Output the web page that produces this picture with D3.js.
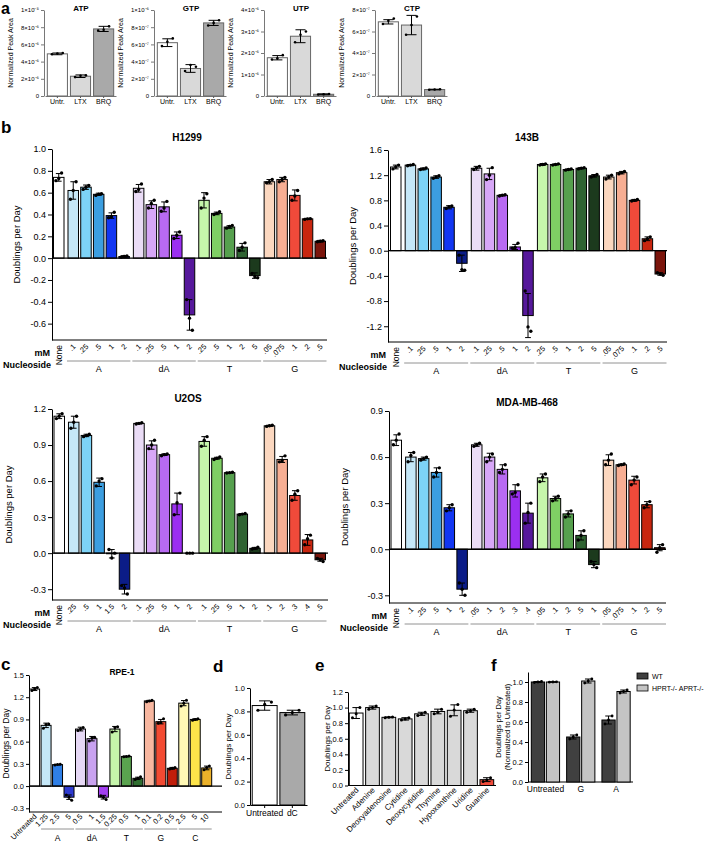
<!DOCTYPE html>
<html><head><meta charset="utf-8">
<script src="https://cdn.jsdelivr.net/npm/d3@7"></script>
<style>
body{margin:0;background:#fff}
svg{display:block;font-family:"Liberation Sans",Arial,Helvetica,sans-serif}
</style>
</head><body>
<svg id="fig" width="704" height="842"></svg>
<script>
// ---------------- DATA ----------------
// Panel a
const aCats = ["Untr.","LTX","BRQ"];
const aFills = ["#ffffff","#d9d9d9","#a9a9a9"];
const atpVals = [4.9e-6, 2.3e-6, 7.8e-6];
const atpErr = [0.1e-6, 0.15e-6, 0.3e-6];
const atpDots = [[4.85e-6,4.95e-6,5.0e-6],[2.2e-6,2.35e-6,2.4e-6],[7.6e-6,7.7e-6,8.1e-6]];
const atpTicks = [0,2e-6,4e-6,6e-6,8e-6,1e-5];
const atpTickLabels = ["0","2×10⁻⁶","4×10⁻⁶","6×10⁻⁶","8×10⁻⁶","1×10⁻⁵"];
const gtpVals = [6.2e-7, 3.2e-7, 8.5e-7];
const gtpErr = [0.45e-7, 0.45e-7, 0.3e-7];
const gtpDots = [[5.8e-7,6.3e-7,6.7e-7],[2.9e-7,3.6e-7,3.4e-7],[8.2e-7,8.5e-7,8.8e-7]];
const gtpTicks = [0,2e-7,4e-7,6e-7,8e-7,1e-6];
const gtpTickLabels = ["0","2×10⁻⁷","4×10⁻⁷","6×10⁻⁷","8×10⁻⁷","1×10⁻⁶"];
const utpVals = [1.78e-6, 2.78e-6, 0.08e-6];
const utpErr = [0.1e-6, 0.3e-6, 0.02e-6];
const utpDots = [[1.7e-6,1.75e-6,1.9e-6],[2.5e-6,2.85e-6,3.0e-6],[0.07e-6,0.08e-6,0.09e-6]];
const utpTicks = [0,1e-6,2e-6,3e-6,4e-6];
const utpTickLabels = ["0","1×10⁻⁶","2×10⁻⁶","3×10⁻⁶","4×10⁻⁶"];
const ctpVals = [6.9e-7, 6.6e-7, 0.6e-7];
const ctpErr = [0.2e-7, 0.9e-7, 0.03e-7];
const ctpDots = [[6.7e-7,7.0e-7,7.2e-7],[5.7e-7,6.6e-7,7.4e-7],[0.58e-7,0.6e-7,0.63e-7]];
const ctpTicks = [0,2e-7,4e-7,6e-7,8e-7];
const ctpTickLabels = ["0","2×10⁻⁷","4×10⁻⁷","6×10⁻⁷","8×10⁻⁷"];

// Panel b (shared structure)
const bGroups = ["A","dA","T","G"];
const bGroupOf = [-1,0,0,0,0,0,1,1,1,1,1,2,2,2,2,2,3,3,3,3,3];
const bFills = ["#ffffff",
  "#c5e7f7","#7dd3f7","#3c9ee0","#1236f2","#0b1c87",
  "#eadcf6","#d7a7f7","#b86af2","#9b2ff1","#56189b",
  "#c6f6ab","#7fcf64","#56a04e","#2f6332","#1c3a1d",
  "#fbd7bf","#f7ae93","#f04a3a","#c8260f","#7b150c"];

const h1299Doses = ["None",".1",".25",".5","1","2",".1",".25",".5","1","2",".25",".5","1","2","5",".05",".075",".1",".2",".5"];
const h1299Vals = [0.74,0.62,0.65,0.585,0.39,0.015,0.64,0.49,0.47,0.21,-0.52,0.53,0.41,0.285,0.10,-0.16,0.70,0.72,0.575,0.36,0.155];
const h1299Err = [0.035,0.08,0.02,0.01,0.025,0.008,0.035,0.035,0.045,0.03,0.14,0.07,0.012,0.012,0.035,0.025,0.02,0.02,0.05,0.005,0.008];
const h1299Dots = [[0.71,0.73,0.78],[0.54,0.62,0.70],[0.63,0.65,0.665],[0.575,0.585,0.59],[0.37,0.38,0.42],[0.01,0.015,0.02],
  [0.61,0.63,0.68],[0.46,0.50,0.53],[0.43,0.46,0.52],[0.18,0.21,0.24],[-0.38,-0.55,-0.66],
  [0.46,0.55,0.59],[0.40,0.41,0.425],[0.275,0.29,0.30],[0.07,0.10,0.14],[-0.14,-0.17,-0.18],
  [0.69,0.70,0.72],[0.70,0.72,0.74],[0.53,0.57,0.62],[0.355,0.36,0.362],[0.15,0.155,0.16]];
const h1299Ticks = [-0.6,-0.4,-0.2,0,0.2,0.4,0.6,0.8,1.0];

const b143Doses = ["None",".1",".25",".5","1","2",".1",".25",".5","1","2",".25",".5","1","2","5",".05",".075",".1",".2",".5"];
const b143Vals = [1.33,1.36,1.30,1.17,0.69,-0.20,1.31,1.22,0.88,0.06,-1.03,1.37,1.37,1.29,1.31,1.19,1.17,1.24,0.80,0.19,-0.37];
const b143Err = [0.03,0.01,0.015,0.02,0.025,0.13,0.03,0.09,0.01,0.04,0.35,0.015,0.01,0.01,0.01,0.02,0.03,0.02,0.015,0.03,0.02];
const b143Dots = [[1.30,1.33,1.36],[1.35,1.36,1.37],[1.29,1.30,1.315],[1.15,1.17,1.19],[0.67,0.70,0.71],[-0.07,-0.30,-0.31],
  [1.29,1.32,1.34],[1.13,1.20,1.32],[0.87,0.88,0.89],[0.04,0.05,0.12],[-0.64,-1.21,-1.28],
  [1.36,1.37,1.38],[1.36,1.37,1.38],[1.28,1.29,1.30],[1.30,1.31,1.32],[1.17,1.19,1.21],
  [1.14,1.17,1.20],[1.22,1.24,1.26],[0.79,0.80,0.815],[0.16,0.19,0.22],[-0.35,-0.37,-0.39]];
const b143Ticks = [-1.2,-0.8,-0.4,0,0.4,0.8,1.2,1.6];

const u2osDoses = ["None",".25",".5","1","1.5","2",".1",".25",".5","1","2",".1",".25",".5","1","2",".1",".2",".3",".4",".5"];
const u2osVals = [1.14,1.09,0.98,0.59,-0.005,-0.30,1.08,0.90,0.82,0.41,0,0.93,0.79,0.67,0.325,0.04,1.06,0.78,0.48,0.11,-0.055];
const u2osErr = [0.02,0.05,0.01,0.035,0.035,0.04,0.005,0.035,0.007,0.09,0,0.04,0.008,0.003,0.004,0.008,0.005,0.025,0.04,0.045,0.012];
const u2osDots = [[1.12,1.14,1.16],[1.04,1.09,1.14],[0.97,0.98,0.99],[0.56,0.60,0.62],[0.03,-0.04,0.0],[-0.27,-0.29,-0.34],
  [1.075,1.08,1.085],[0.87,0.90,0.94],[0.81,0.82,0.825],[0.32,0.42,0.50],[0,0,0],
  [0.89,0.94,0.97],[0.78,0.79,0.80],[0.667,0.67,0.673],[0.32,0.325,0.33],[0.035,0.04,0.05],
  [1.055,1.06,1.065],[0.76,0.77,0.81],[0.44,0.49,0.52],[0.07,0.12,0.15],[-0.045,-0.055,-0.07]];
const u2osTicks = [-0.3,0,0.3,0.6,0.9,1.2];

const mdaDoses = ["None",".1",".25",".5","1","2",".05",".1",".2",".3",".4",".05",".1",".2",".5","1",".05",".075",".1",".2",".5"];
const mdaVals = [0.71,0.60,0.59,0.50,0.27,-0.26,0.68,0.60,0.52,0.38,0.235,0.465,0.33,0.23,0.09,-0.10,0.58,0.55,0.45,0.29,0.01];
const mdaErr = [0.035,0.03,0.01,0.03,0.02,0.04,0.01,0.025,0.03,0.04,0.065,0.025,0.015,0.02,0.03,0.02,0.035,0.005,0.025,0.02,0.02];
const mdaDots = [[0.68,0.71,0.75],[0.57,0.61,0.63],[0.58,0.59,0.60],[0.47,0.50,0.53],[0.25,0.27,0.29],[-0.22,-0.26,-0.30],
  [0.67,0.68,0.69],[0.57,0.60,0.62],[0.50,0.52,0.55],[0.36,0.37,0.42],[0.17,0.24,0.30],
  [0.44,0.47,0.49],[0.315,0.33,0.345],[0.21,0.23,0.25],[0.06,0.09,0.12],[-0.08,-0.10,-0.12],
  [0.55,0.58,0.62],[0.545,0.55,0.555],[0.42,0.45,0.47],[0.27,0.29,0.31],[-0.02,0.01,0.03]];
const mdaTicks = [-0.3,0,0.3,0.6,0.9];

// Panel c
const cLabels = ["Untreated","1.25","2.5","5","0.5","1","1.5","0.25","0.5","1","0.1","0.2","0.5","2.5","5","10"];
const cGroups = ["A","dA","T","G","C"];
const cGroupOf = [-1,0,0,0,1,1,1,2,2,2,3,3,3,4,4,4];
const cFills = ["#ffffff","#c5e7f7","#2f7fe6","#2e3ad0","#e6d8f5","#c9a2f0","#a23ef0",
  "#c6f6ab","#5aa34f","#2f6e30","#f8b7a0","#f24a32","#c01e0b","#fff8b5","#fde44a","#ebb12a"];
const cVals = [1.31,0.82,0.29,-0.15,0.77,0.64,-0.15,0.77,0.40,0.105,1.15,0.87,0.24,1.12,0.90,0.245];
const cErr = [0.02,0.03,0.005,0.03,0.025,0.03,0.025,0.035,0.005,0.015,0.008,0.03,0.012,0.035,0.01,0.025];
const cDots = [[1.29,1.31,1.33],[0.78,0.83,0.84],[0.285,0.29,0.295],[-0.12,-0.15,-0.19],[0.75,0.77,0.79],[0.61,0.65,0.66],
  [-0.13,-0.15,-0.18],[0.73,0.79,0.80],[0.395,0.40,0.405],[0.09,0.105,0.125],[1.14,1.15,1.16],[0.85,0.86,0.91],
  [0.23,0.24,0.25],[1.08,1.12,1.16],[0.89,0.90,0.91],[0.22,0.25,0.27]];
const cTicks = [-0.3,0,0.3,0.6,0.9,1.2,1.5];

// Panel d
const dCats = ["Untreated","dC"];
const dFills = ["#ffffff","#a9a9a9"];
const dVals = [0.85,0.79];
const dErr = [0.04,0.02];
const dDots = [[0.81,0.86,0.88],[0.77,0.79,0.81]];
const dTicks = [0,0.2,0.4,0.6,0.8,1.0];

// Panel e
const eCats = ["Untreated","Adenine","Deoxyadenosine","Cytidine","Deoxycytidine","Thymine","Hypoxanthine","Uridine","Guanine"];
const eFills = ["#ffffff","#d9d9d9","#d9d9d9","#d9d9d9","#d9d9d9","#d9d9d9","#d9d9d9","#d9d9d9","#f04a3a"];
const eVals = [0.93,1.00,0.875,0.855,0.92,0.95,0.965,0.96,0.075];
const eErr = [0.07,0.02,0.005,0.015,0.02,0.03,0.07,0.02,0.025];
const eDots = [[0.87,0.92,1.00],[0.98,1.00,1.02],[0.87,0.875,0.88],[0.84,0.855,0.87],[0.90,0.92,0.94],
  [0.92,0.94,0.98],[0.89,0.97,1.04],[0.94,0.96,0.98],[0.05,0.07,0.10]];
const eTicks = [0,0.2,0.4,0.6,0.8,1.0,1.2];

// Panel f
const fCats = ["Untreated","G","A"];
const fSeries = ["WT","HPRT-/- APRT-/-"];
const fFills = ["#404040","#c4c4c4"];
const fWtVals = [1.0,0.45,0.62];
const fWtErr = [0.005,0.02,0.04];
const fWtDots = [[0.995,1.0,1.005],[0.43,0.45,0.47],[0.58,0.62,0.66]];
const fKoVals = [1.0,1.01,0.905];
const fKoErr = [0.003,0.02,0.015];
const fKoDots = [[0.998,1.0,1.002],[0.99,1.01,1.03],[0.89,0.905,0.92]];
const fTicks = [0,0.2,0.4,0.6,0.8,1.0];

// ---------------- DRAWING ----------------
const svg = d3.select("#fig");
const fmt1 = d => d.toFixed(1);

function txt(g, x, y, s, o = {}) {
  const t = g.append("text").attr("x", x).attr("y", y).text(s)
    .attr("font-size", o.size || 9)
    .attr("font-weight", o.bold ? "bold" : "normal")
    .attr("text-anchor", o.anchor || "start")
    .attr("fill", o.fill || "#000");
  if (o.rotate != null) t.attr("transform", `rotate(${o.rotate},${x},${y})`);
  return t;
}

function yAxis(g, y, x, ticks, fmt, o = {}) {
  const ax = d3.axisLeft(y).tickValues(ticks).tickFormat(fmt)
    .tickSize(o.tick || 4).tickSizeOuter(0).tickPadding(o.pad || 2);
  const a = g.append("g").attr("transform", `translate(${x},0)`).call(ax);
  a.select(".domain").attr("stroke", o.color || "#000").attr("stroke-width", o.sw || 1);
  a.selectAll(".tick line").attr("stroke", o.color || "#000").attr("stroke-width", o.sw || 1);
  a.selectAll(".tick text").attr("font-size", o.size || 9).attr("font-family", null).attr("fill", "#000");
  return a;
}

function hline(g, x1, x2, y, o = {}) {
  g.append("line").attr("x1", x1).attr("x2", x2).attr("y1", y).attr("y2", y)
    .attr("stroke", o.color || "#000").attr("stroke-width", o.sw || 1);
}

function drawBars(g, xl, bw, y, vals, errs, dots, fills, o = {}) {
  const stroke = o.stroke || "#000", sw = o.sw || 1, capW = bw * (o.cap || 0.55), r = o.r || 1.6;
  vals.forEach((v, i) => {
    const x = xl(i);
    g.append("rect").attr("x", x).attr("y", y(Math.max(v, 0)))
      .attr("width", bw).attr("height", Math.abs(y(v) - y(0)))
      .attr("fill", fills[i]).attr("stroke", stroke).attr("stroke-width", sw);
  });
  vals.forEach((v, i) => {
    const cx = xl(i) + bw / 2, e = errs[i];
    if (e > 0) {
      g.append("line").attr("x1", cx).attr("x2", cx).attr("y1", y(v - e)).attr("y2", y(v + e))
        .attr("stroke", "#000").attr("stroke-width", 1);
      [v - e, v + e].forEach(t => g.append("line").attr("x1", cx - capW / 2).attr("x2", cx + capW / 2)
        .attr("y1", y(t)).attr("y2", y(t)).attr("stroke", "#000").attr("stroke-width", 1));
    }
    const offs = [-0.27, 0, 0.27];
    dots[i].forEach((d, k) => g.append("circle").attr("cx", cx + offs[k] * bw).attr("cy", y(d))
      .attr("r", r).attr("fill", "#000"));
  });
}

// ---------- Panel a ----------
function panelA(ax, title, vals, errs, dots, ticks, tickLabels) {
  const g = svg.append("g");
  const top = 10, bot = 96;
  const y = d3.scaleLinear().domain([ticks[0], ticks[ticks.length - 1]]).range([bot, top]);
  const x = d3.scaleBand().domain(aCats).range([ax + 1, ax + 72]).paddingInner(0.13).paddingOuter(0.1);
  yAxis(g, y, ax, ticks, (d, i) => tickLabels[i], { size: 6, tick: 3, color: "#555", sw: 0.8 });
  const xa = g.append("g").attr("transform", `translate(0,${bot})`)
    .call(d3.axisBottom(x).tickSize(2).tickSizeOuter(0).tickPadding(1));
  xa.select(".domain").attr("stroke", "#555").attr("stroke-width", 0.8);
  xa.selectAll(".tick line").attr("stroke", "#555");
  xa.selectAll(".tick text").attr("font-size", 7).attr("font-family", null);
  drawBars(g, i => x(aCats[i]), x.bandwidth(), y, vals, errs, dots, aFills,
    { stroke: "#666", sw: 1, cap: 0.5, r: 1.3 });
  txt(g, ax + 37, 11, title, { size: 8, bold: true, anchor: "middle" });
  txt(g, ax - 31, (top + bot) / 2, "Normalized Peak Area", { size: 7, anchor: "middle", rotate: -90 });
}
panelA(44, "ATP", atpVals, atpErr, atpDots, atpTicks, atpTickLabels);
panelA(154, "GTP", gtpVals, gtpErr, gtpDots, gtpTicks, gtpTickLabels);
panelA(264, "UTP", utpVals, utpErr, utpDots, utpTicks, utpTickLabels);
panelA(375, "CTP", ctpVals, ctpErr, ctpDots, ctpTicks, ctpTickLabels);

// ---------- Panel b ----------
const slot = i => i + Math.max(bGroupOf[i], 0) * 0.14 + (bGroupOf[i] >= 0 ? 0.14 : 0);
function panelB(c) {
  const g = svg.append("g");
  const y = d3.scaleLinear().domain(c.domain).range([c.bottom, c.top]);
  const x = d3.scaleLinear().domain([slot(0), slot(20)]).range([c.l0, c.l1]);
  const xl = i => x(slot(i));
  const bw = 10.5;
  yAxis(g, y, c.axisX, c.ticks, fmt1, { size: 9, tick: 4 });
  hline(g, c.axisX, c.right, c.bottom);
  drawBars(g, xl, bw, y, c.vals, c.errs, c.dots, bFills, { r: 1.7 });
  hline(g, c.axisX, c.right, y(0), { sw: 1.3 });
  txt(g, c.titleX, c.titleY, c.title, { size: 10, bold: true, anchor: "middle" });
  txt(g, c.ylabX, (c.top + c.bottom) / 2, "Doublings per Day", { size: 9.5, anchor: "middle", rotate: -90 });
  c.doses.forEach((d, i) => {
    const cx = xl(i) + bw / 2;
    if (i === 0) txt(g, cx + 3, c.bottom + 5, d, { size: 8.5, anchor: "end", rotate: -90 });
    else txt(g, cx + 3, c.bottom + 7, d, { size: 7.5, anchor: "end", rotate: -45 });
  });
  txt(g, c.axisX - 2, c.bottom + 16, "mM", { size: 9, bold: true, anchor: "end" });
  txt(g, c.axisX - 1, c.bottom + 28, "Nucleoside", { size: 9, bold: true, anchor: "end" });
  bGroups.forEach((gn, k) => {
    const idx = d3.range(21).filter(i => bGroupOf[i] === k);
    const x1 = xl(idx[0]) - 1, x2 = xl(idx[idx.length - 1]) + bw + 1;
    hline(g, x1, x2, c.bottom + 21, { color: "#777", sw: 0.8 });
    txt(g, (x1 + x2) / 2, c.bottom + 32, gn, { size: 9, anchor: "middle" });
  });
}
panelB({ title: "H1299", titleX: 187, titleY: 141, axisX: 52, right: 327, l0: 53.5, l1: 315,
  domain: [-0.75, 1.0], bottom: 340, top: 149, ticks: h1299Ticks, vals: h1299Vals, errs: h1299Err,
  dots: h1299Dots, doses: h1299Doses, ylabX: 20 });
panelB({ title: "143B", titleX: 527, titleY: 141, axisX: 388, right: 667, l0: 390.5, l1: 655,
  domain: [-1.45, 1.6], bottom: 342, top: 150, ticks: b143Ticks, vals: b143Vals, errs: b143Err,
  dots: b143Dots, doses: b143Doses, ylabX: 356 });
panelB({ title: "U2OS", titleX: 188, titleY: 402, axisX: 52, right: 328, l0: 54, l1: 315,
  domain: [-0.39, 1.2], bottom: 600, top: 409, ticks: u2osTicks, vals: u2osVals, errs: u2osErr,
  dots: u2osDots, doses: u2osDoses, ylabX: 12 });
panelB({ title: "MDA-MB-468", titleX: 527, titleY: 406, axisX: 389, right: 666, l0: 391, l1: 654.5,
  domain: [-0.35, 0.9], bottom: 603, top: 411, ticks: mdaTicks, vals: mdaVals, errs: mdaErr,
  dots: mdaDots, doses: mdaDoses, ylabX: 348 });

// ---------- Panel c ----------
(function () {
  const g = svg.append("g");
  const axisX = 29, right = 222, bottom = 812, top = 675;
  const y = d3.scaleLinear().domain([-0.35, 1.5]).range([bottom, top]);
  const x = d3.scaleBand().domain(d3.range(cVals.length)).range([28.8, 212.5]).paddingInner(0.13).paddingOuter(0.07);
  const bw = x.bandwidth();
  yAxis(g, y, axisX, cTicks, fmt1, { size: 7.5, tick: 3 });
  hline(g, axisX, right, bottom);
  drawBars(g, i => x(i), bw, y, cVals, cErr, cDots, cFills, { r: 1.5 });
  hline(g, axisX, right, y(0), { sw: 1.3 });
  txt(g, 122, 675, "RPE-1", { size: 8.5, bold: true, anchor: "middle" });
  txt(g, 9, (top + bottom) / 2, "Doublings per Day", { size: 8.5, anchor: "middle", rotate: -90 });
  cLabels.forEach((l, i) => txt(g, x(i) + bw / 2 + 2.5, bottom + 5, l, { size: 7.5, anchor: "end", rotate: -45 }));
  cGroups.forEach((gn, k) => {
    const idx = d3.range(16).filter(i => cGroupOf[i] === k);
    const x1 = x(idx[0]), x2 = x(idx[idx.length - 1]) + bw;
    hline(g, x1, x2, 829, { color: "#777", sw: 0.8 });
    txt(g, (x1 + x2) / 2, 841, gn, { size: 8.5, anchor: "middle" });
  });
})();

// ---------- Panel d ----------
(function () {
  const g = svg.append("g");
  const axisX = 250, bottom = 805, top = 688;
  const y = d3.scaleLinear().domain([0, 1.0]).range([bottom, top]);
  const x = d3.scaleBand().domain(dCats).range([axisX, 307]).paddingInner(0.1).paddingOuter(0.08);
  yAxis(g, y, axisX, dTicks, fmt1, { size: 7.5, tick: 3 });
  const xa = g.append("g").attr("transform", `translate(0,${bottom})`)
    .call(d3.axisBottom(x).tickSize(3).tickSizeOuter(0).tickPadding(2));
  xa.selectAll(".tick text").attr("font-size", 8.5).attr("font-family", null);
  drawBars(g, i => x(dCats[i]), x.bandwidth(), y, dVals, dErr, dDots, dFills, { r: 1.6, cap: 0.45 });
  txt(g, 231, (top + bottom) / 2, "Doublings per Day", { size: 8, anchor: "middle", rotate: -90 });
})();

// ---------- Panel e ----------
(function () {
  const g = svg.append("g");
  const axisX = 348, bottom = 785.5, top = 692;
  const y = d3.scaleLinear().domain([0, 1.2]).range([bottom, top]);
  const x = d3.scaleBand().domain(eCats).range([axisX, 495]).paddingInner(0.16).paddingOuter(0.08);
  const bw = x.bandwidth();
  yAxis(g, y, axisX, eTicks, fmt1, { size: 7.5, tick: 3 });
  hline(g, axisX, 496, bottom);
  drawBars(g, i => x(eCats[i]), bw, y, eVals, eErr, eDots, eFills, { r: 1.5, cap: 0.55 });
  txt(g, 330, (top + bottom) / 2, "Doublings per Day", { size: 8, anchor: "middle", rotate: -90 });
  eCats.forEach((l, i) => txt(g, x(l) + bw / 2 + 3, bottom + 5, l, { size: 8, anchor: "end", rotate: -45 }));
})();

// ---------- Panel f ----------
(function () {
  const g = svg.append("g");
  const axisX = 528, bottom = 782, top = 672;
  const y = d3.scaleLinear().domain([0, 1.1]).range([bottom, top]);
  const x = d3.scaleBand().domain(fCats).range([528.5, 633]).paddingInner(0.2).paddingOuter(0.08);
  const xs = d3.scaleBand().domain(fSeries).range([0, x.bandwidth()]).paddingInner(0.12);
  yAxis(g, y, axisX, fTicks, fmt1, { size: 7.5, tick: 3 });
  const xa = g.append("g").attr("transform", `translate(0,${bottom})`)
    .call(d3.axisBottom(x).tickSize(0).tickSizeOuter(0).tickPadding(4));
  xa.select(".domain").attr("d", `M${axisX},0H633`);
  xa.selectAll(".tick text").attr("font-size", 8.5).attr("font-family", null);
  drawBars(g, i => x(fCats[i]) + xs(fSeries[0]), xs.bandwidth(), y, fWtVals, fWtErr, fWtDots,
    fCats.map(() => fFills[0]), { r: 1.4, cap: 0.5 });
  drawBars(g, i => x(fCats[i]) + xs(fSeries[1]), xs.bandwidth(), y, fKoVals, fKoErr, fKoDots,
    fCats.map(() => fFills[1]), { r: 1.4, cap: 0.5 });
  txt(g, 501, (top + bottom) / 2, "Doublings per Day", { size: 7.5, anchor: "middle", rotate: -90 });
  txt(g, 510, (top + bottom) / 2, "(Normalized to Untreated)", { size: 7.5, anchor: "middle", rotate: -90 });
  fSeries.forEach((s, k) => {
    g.append("rect").attr("x", 637).attr("y", 673 + k * 12).attr("width", 11).attr("height", 6)
      .attr("fill", fFills[k]).attr("stroke", "#000").attr("stroke-width", 0.8);
    txt(g, 652, 679 + k * 12, s, { size: 7 });
  });
})();

// ---------- Panel letters ----------
[["a", 1, 14, 16], ["b", 1, 133, 17], ["c", 1, 670, 17], ["d", 213, 672, 17], ["e", 315, 671, 17], ["f", 491, 671, 17]]
  .forEach(([l, x, y, s]) => txt(svg, x, y, l, { size: s, bold: true }));
</script>
</body></html>
